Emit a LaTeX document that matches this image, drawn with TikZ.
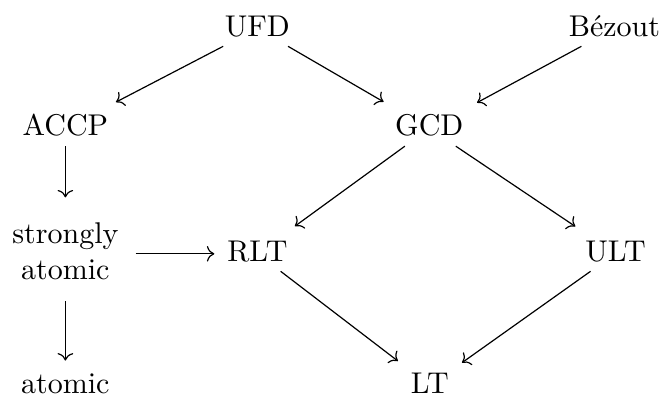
\documentclass[tikz,border=0pt]{standalone}
\usetikzlibrary{cd}
\begin{document}
\begin{tikzpicture}[x=1pt,y=1pt,
  cell/.style={shape=asymmetrical rectangle, anchor=base,
    inner xsep=0.5ex, inner ysep=0.5ex,
    text height=1.8ex, text depth=0.25ex},
  stackcell/.style={anchor=base, inner xsep=5.5pt, inner ysep=3.6pt},
  imp/.style={->, line width=0.4pt},
  slant/.style={imp, shorten >=2.5pt}]
  \useasboundingbox (0,0) rectangle (221.67,132);
  % top row
  \node[cell] (ufd)   at (85.8,120)  {UFD};
  \node[cell] (bez)   at (204.8,120) {Bézout};
  % second row
  \node[cell] (accp)  at (21.8,86.7) {ACCP};
  \node[cell] (gcd)   at (143.1,86.7) {GCD};
  % third row
  \node[stackcell] (sat) at (21.8,51)
    {\begin{tabular}[t]{@{}c@{}}strongly\\ atomic\end{tabular}};
  \node[cell] (rlt)   at (85.8,45) {RLT};
  \node[cell] (ult)   at (205.2,45) {ULT};
  % bottom row
  \node[cell] (atom)  at (21.8,1) {atomic};
  \node[cell] (lt)    at (143.3,1) {LT};
  % implications
  \draw[slant] (ufd) -- (accp);
  \draw[slant] (ufd) -- (gcd);
  \draw[slant] (bez) -- (gcd);
  \draw[imp] (accp) -- ([yshift=3pt]sat.north);
  \draw[imp] (sat) -- ([xshift=-2pt]sat -| rlt.west);
  \draw[imp, shorten >=0.7pt] (sat) -- (atom);
  \draw[slant] (gcd) -- (rlt);
  \draw[slant] (gcd) -- (ult);
  \draw[slant] (rlt) -- (lt);
  \draw[slant] (ult) -- (lt);
\end{tikzpicture}
\end{document}
